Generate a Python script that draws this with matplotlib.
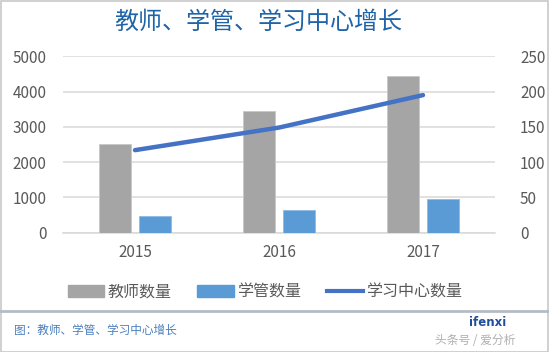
import matplotlib
matplotlib.use("Agg")
import matplotlib.pyplot as plt
from matplotlib.patches import Patch, Rectangle
from matplotlib.lines import Line2D
import numpy as np

plt.rcParams['font.family'] = ['Noto Sans CJK SC', 'DejaVu Sans']

years = ['2015', '2016', '2017']
teachers = [2520, 3450, 4450]
tutors = [480, 640, 950]
centers = [117, 149, 195]

title = '教师、学管、学习中心增长'
labels = ['教师数量', '学管数量', '学习中心数量']

W, H = 549, 352
fig = plt.figure(figsize=(W / 100, H / 100), dpi=100)

ax = fig.add_axes([63 / W, (H - 232.7) / H, (495 - 63) / W, (232.7 - 56.3) / H])
ax2 = ax.twinx()

x = np.arange(len(years))
bw = 0.225
ax.bar(x - 0.14, teachers, bw, color='#a5a5a5', edgecolor='#c8c8c8', linewidth=0.6, zorder=3)
ax.bar(x + 0.14, tutors, bw, color='#5b9bd5', edgecolor='#8cbbe6', linewidth=0.6, zorder=3)
ax2.plot(x, centers, color='#4472c4', linewidth=3.2, solid_capstyle='round', zorder=4)

ax.set_xlim(-0.5, 2.5)
ax.set_ylim(0, 5000)
ax2.set_ylim(0, 250)
ax.set_yticks(range(0, 5001, 1000))
ax2.set_yticks(range(0, 251, 50))
ax.set_xticks(x)
ax.set_xticklabels(years)
ax.yaxis.grid(True, color='#d9d9d9', linewidth=1.1, zorder=0)
ax.set_axisbelow(True)
for a in (ax, ax2):
    for s in a.spines.values():
        s.set_visible(False)
    a.tick_params(length=0, colors='#595959', labelsize=11)
ax.tick_params(axis='y', pad=12)
ax2.tick_params(axis='y', pad=18)
ax.tick_params(axis='x', pad=8)
ax.spines['bottom'].set_visible(True)
ax.spines['bottom'].set_color('#d9d9d9')
ax.spines['bottom'].set_linewidth(1.1)

fig.text(258 / W, 1 - 22 / H, title, ha='center', va='center', fontsize=17.3,
         color='#1f64a8')

handles = [Patch(facecolor='#a5a5a5', edgecolor='#a5a5a5'),
           Patch(facecolor='#5b9bd5', edgecolor='#5b9bd5'),
           Line2D([0], [0], color='#4472c4', linewidth=3)]
leg = fig.legend(handles, labels, loc='center', bbox_to_anchor=(265 / W, 1 - 292 / H),
                 ncol=3, frameon=False, fontsize=11.5, handlelength=2.3, handleheight=0.8,
                 handletextpad=0.2, columnspacing=1.6)
for t in leg.get_texts():
    t.set_color('#595959')

# divider line
fig.add_artist(Line2D([0, 1], [1 - 311 / H, 1 - 311 / H], color='#b4bcc4', linewidth=2,
                      transform=fig.transFigure))
fig.text(14 / W, 1 - 330 / H, '图：教师、学管、学习中心增长', ha='left', va='center',
         fontsize=8.4, color='#4a7ebb')
fig.text(506 / W, 1 - 322 / H, 'ifenxi', ha='right', va='center', fontsize=8.5,
         fontweight='bold', color='#1f4e9c', family=['DejaVu Sans'])
fig.text(515 / W, 1 - 341 / H, '头条号 / 爱分析', ha='right', va='center', fontsize=8.5,
         color='#b0b0b0')
fig.add_artist(Rectangle((0.5 / W, 0.5 / H), 1 - 1.5 / W, 1 - 1.5 / H, fill=False,
                         edgecolor='#c8c8c8', linewidth=1.2, transform=fig.transFigure))

fig.savefig('out.png', dpi=100)
